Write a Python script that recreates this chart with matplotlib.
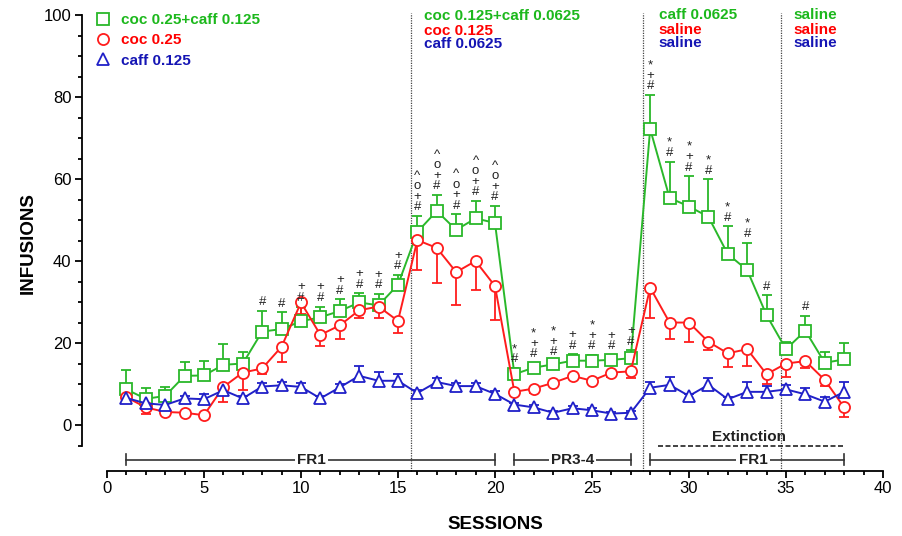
import numpy as np
import matplotlib.pyplot as plt
from matplotlib.lines import Line2D

plt.rcParams['font.family'] = ['Liberation Sans', 'DejaVu Sans']

# 数据 (sessions 1-38)
sessions = np.arange(1, 39)

combo_mean = [8.7, 6.4, 7.1, 12.0, 12.1, 14.7, 15.0, 22.8, 23.4, 25.3,
              26.3, 27.8, 29.9, 29.2, 34.2, 47.1, 52.2, 47.6, 50.4, 49.3,
              12.4, 14.0, 14.8, 15.7, 15.7, 15.9, 16.3, 72.2, 55.4, 53.3,
              50.8, 41.7, 37.8, 26.8, 18.5, 23.0, 15.2, 16.0]
combo_top = [13.4, 9.0, 9.2, 15.4, 15.7, 19.8, 17.9, 27.8, 27.5, 28.9,
             28.9, 30.7, 32.1, 32.0, 36.6, 51.0, 56.1, 51.4, 54.7, 53.5,
             13.9, 15.2, 15.6, 17.3, 17.1, 17.1, 18.2, 80.5, 64.2, 60.7,
             59.9, 48.5, 44.5, 31.6, 20.2, 26.6, 17.8, 19.9]

coc_mean = [6.8, 4.3, 3.2, 3.0, 2.4, 9.3, 12.8, 13.8, 19.1, 29.9,
            22.0, 24.3, 28.0, 28.9, 25.4, 45.1, 43.2, 37.3, 40.0, 33.9,
            8.1, 8.9, 10.3, 12.0, 10.8, 12.8, 13.1, 33.5, 25.0, 25.0,
            20.3, 17.5, 18.5, 12.4, 15.0, 15.6, 11.0, 4.3]
coc_bottom = [5.8, 2.8, 2.5, 2.5, 2.0, 5.7, 8.5, 12.5, 15.4, 27.0,
              19.4, 21.1, 26.0, 26.0, 22.4, 37.8, 34.6, 29.3, 33.0, 25.6,
              7.3, 7.7, 9.5, 11.2, 10.2, 11.8, 11.4, 26.2, 20.9, 20.3,
              18.3, 14.1, 14.4, 10.0, 11.8, 13.8, 9.5, 2.0]

caff_mean = [6.6, 5.3, 4.9, 6.5, 6.3, 8.5, 6.5, 9.4, 9.7, 9.3,
             6.5, 9.2, 12.0, 10.8, 10.8, 7.8, 10.5, 9.5, 9.5, 7.6,
             5.0, 4.3, 3.0, 4.1, 3.6, 2.8, 3.0, 9.1, 9.8, 7.1,
             9.8, 6.3, 8.1, 8.1, 8.7, 7.5, 5.7, 8.1]
caff_top = [7.0, 5.8, 5.8, 7.2, 7.6, 9.5, 7.0, 10.2, 10.5, 10.2,
            7.0, 10.0, 14.4, 13.0, 12.5, 8.5, 11.5, 10.3, 10.3, 8.2,
            5.5, 4.8, 3.5, 4.6, 4.1, 3.3, 3.5, 10.6, 11.6, 7.6,
            11.4, 6.8, 10.6, 9.6, 9.8, 9.1, 6.9, 10.6]

# 显著性符号 (自下而上)
sig_marks = {8: '#', 9: '#', 10: '#+', 11: '#+', 12: '#+', 13: '#+', 14: '#+', 15: '#+',
             16: '#+o^', 17: '#+o^', 18: '#+o^', 19: '#+o^', 20: '#+o^',
             21: '#*', 22: '#+*', 23: '#+*', 24: '#+', 25: '#+*', 26: '#+', 27: '#+',
             28: '#+*', 29: '#*', 30: '#+*', 31: '#*', 32: '#*', 33: '#*', 34: '#', 36: '#'}

phase_lines = [15.67, 27.65, 34.75]

# 阶段标签
phase_labels = [
    (16.35, ['coc 0.125+caff 0.0625', 'coc 0.125', 'caff 0.0625'], [99.8, 96.0, 93.0]),
    (28.45, ['caff 0.0625', 'saline', 'saline'], [100.0, 96.4, 93.2]),
    (35.4, ['saline', 'saline', 'saline'], [100.0, 96.4, 93.2]),
]

brackets = [(1, 20, 'FR1', 10.55), (21, 27, 'PR3-4', 24.0), (28, 38, 'FR1', 33.3)]

GREEN = '#2ab82a'
RED = '#ff1c1c'
BLUE = '#2020c8'
TXT_GREEN = '#1cb81c'
TXT_RED = '#ff0000'
TXT_BLUE = '#1515b4'


def 画系列(ax, mean, lo, hi, color, marker, ms):
    mean = np.array(mean)
    eb = ax.errorbar(sessions, mean, yerr=[lo, hi], fmt='none', ecolor=color,
                     elinewidth=1.3, capsize=3.4, capthick=1.3, zorder=2)
    # 只保留单侧误差帽
    for cap in eb[1]:
        if np.allclose(cap.get_ydata(), mean):
            cap.set_visible(False)
    ax.plot(sessions, mean, color=color, lw=1.4, marker=marker, ms=ms,
            mfc='white', mec=color, mew=1.3, zorder=3)


fig = plt.figure(figsize=(9.02, 5.36), dpi=100)
ax = fig.add_axes([0.1186, 0.1213, 0.8603, 0.8507])

zero = np.zeros(len(sessions))
画系列(ax, combo_mean, zero, np.array(combo_top) - np.array(combo_mean), GREEN, 's', 8)
画系列(ax, coc_mean, np.array(coc_mean) - np.array(coc_bottom), zero, RED, 'o', 8)
画系列(ax, caff_mean, zero, np.array(caff_top) - np.array(caff_mean), BLUE, '^', 8)

# 显著性符号
for s, marks in sig_marks.items():
    base = combo_top[s - 1] + 2.1
    for k, ch in enumerate(marks):
        ax.text(s, base + 2.55 * k, ch, ha='center', va='center', fontsize=9.5,
                color='#222222', zorder=4)

for xl in phase_lines:
    ax.plot([xl, xl], [-11.2, 100.5], color='#444444', lw=0.9,
            ls=(0, (1, 1)), clip_on=False, zorder=1)

cols = [TXT_GREEN, TXT_RED, TXT_BLUE]
for x0, labels, ys in phase_labels:
    for lab, yy, c in zip(labels, ys, cols):
        ax.text(x0, yy, lab, color=c, fontsize=11, fontweight='bold',
                ha='left', va='center', clip_on=False)

# 阶段括号
for a, b, lab, cx in brackets:
    ax.plot([a, b], [-8.4, -8.4], color='#333333', lw=1.2, clip_on=False)
    for e in (a, b):
        ax.plot([e, e], [-9.7, -7.1], color='#333333', lw=1.2, clip_on=False)
    ax.text(cx, -8.4, lab, ha='center', va='center', fontsize=11, fontweight='bold',
            color='#222222', bbox=dict(facecolor='white', edgecolor='none', pad=1.5),
            zorder=5)

ax.plot([28.4, 38.0], [-5.0, -5.0], color='#222222', lw=1.2, ls=(0, (3, 1.5)),
        clip_on=False)
ax.text(33.1, -2.8, 'Extinction', ha='center', va='center', fontsize=11,
        fontweight='bold', color='#222222')

# 图例
handles = [Line2D([], [], ls='none', marker='s', ms=8, mfc='white', mec=GREEN, mew=1.3),
           Line2D([], [], ls='none', marker='o', ms=8, mfc='white', mec=RED, mew=1.3),
           Line2D([], [], ls='none', marker='^', ms=8, mfc='white', mec=BLUE, mew=1.3)]
leg = ax.legend(handles, ['coc 0.25+caff 0.125', 'coc 0.25', 'caff 0.125'],
                loc='upper left', bbox_to_anchor=(95 / 902, 1 - 13 / 536),
                bbox_transform=fig.transFigure, frameon=False, handlelength=1.0,
                handletextpad=0.72, labelspacing=0.42, borderpad=0, borderaxespad=0,
                labelcolor=cols, prop={'size': 11, 'weight': 'bold'})

ax.set_xlim(0, 40)
ax.set_ylim(-11.2, 100)
ax.spines['top'].set_visible(False)
ax.spines['right'].set_visible(False)
ax.spines['left'].set_position(('outward', 18))
ax.spines['left'].set_bounds(-5, 100)
ax.spines['bottom'].set_bounds(0, 40)
for sp in ('left', 'bottom'):
    ax.spines[sp].set_linewidth(1.3)

ax.set_xticks(np.arange(0, 41, 5))
ax.set_xticks(np.arange(0, 41, 1), minor=True)
ax.set_yticks(np.arange(0, 101, 20))
ax.set_yticks(np.arange(-5, 101, 5), minor=True)
ax.tick_params(axis='both', which='major', length=5, width=1.3, labelsize=12, pad=2.5)
ax.tick_params(axis='both', which='minor', length=3, width=1.3)

ax.set_xlabel('SESSIONS', fontsize=13.5, fontweight='bold', labelpad=14)
ax.set_ylabel('INFUSIONS', fontsize=13.5, fontweight='bold', labelpad=5)

fig.savefig('out.png', dpi=100)
